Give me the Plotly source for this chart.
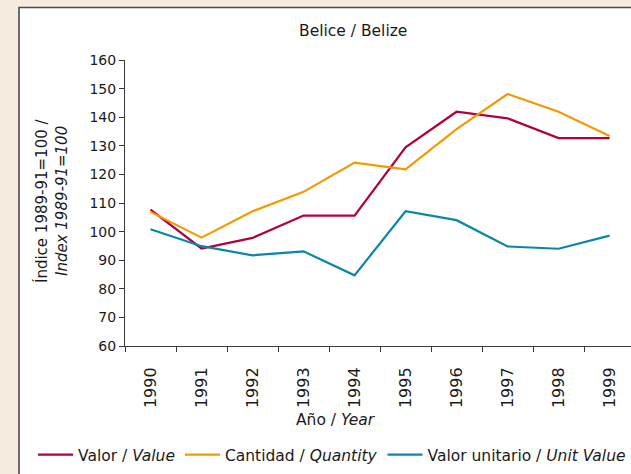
import plotly.graph_objects as go

years = ['1990', '1991', '1992', '1993', '1994', '1995', '1996', '1997', '1998', '1999']
valor = [107.7, 94.1, 97.8, 105.6, 105.6, 129.5, 141.9, 139.6, 132.7, 132.7]
cantidad = [106.9, 97.9, 107.1, 113.9, 124.1, 121.8, 135.8, 148.1, 141.9, 133.4]
valor_unitario = [100.8, 94.9, 91.7, 93.1, 84.7, 107.1, 104.0, 94.8, 94.0, 98.6]

names = ['Valor / <i>Value</i>', 'Cantidad / <i>Quantity</i>', 'Valor unitario / <i>Unit Value</i>']
colors = ['#B2003D', '#F39A00', '#0A87A8']

W, H = 631, 474
ML, MR, MT, MB = 125, 0, 60, 128
PW = W - ML - MR
PH = H - MT - MB

def px(x):
    return (x - ML) / PW

def py(y):
    return (H - MB - y) / PH

FONT = 'DejaVu Sans'

fig = go.Figure()
for name, vals, c in zip(names, [valor, cantidad, valor_unitario], colors):
    fig.add_trace(go.Scatter(x=years, y=vals, mode='lines', name=name,
                             line=dict(color=c, width=2.2)))

fig.update_layout(
    width=W, height=H,
    margin=dict(l=ML, r=MR, t=MT, b=MB),
    paper_bgcolor='#F5EBDF',
    plot_bgcolor='rgba(0,0,0,0)',
    font=dict(family=FONT, color='#1a1a1a'),
    showlegend=True,
    legend=dict(orientation='h', x=px(33), xanchor='left', y=py(455), yanchor='middle',
                font=dict(size=15.5, family=FONT, color='#1a1a1a'), bgcolor='rgba(0,0,0,0)',
                itemwidth=35, tracegroupgap=0),
    xaxis=dict(type='category', categoryorder='array', categoryarray=years,
               range=[-0.5, 9.42], showline=True, linecolor='#3a3a3a', linewidth=1,
               ticks='outside', ticklen=5, tickcolor='#3a3a3a', tickson='boundaries',
               tickangle=-90, tickfont=dict(size=16, family=FONT), ticklabelstandoff=14,
               showgrid=False, zeroline=False, fixedrange=True),
    yaxis=dict(range=[60, 160], dtick=10, showline=True, linecolor='#3a3a3a', linewidth=1,
               ticks='outside', ticklen=5, tickcolor='#3a3a3a',
               tickfont=dict(size=14, family=FONT), showgrid=False, zeroline=False,
               fixedrange=True),
    shapes=[dict(type='rect', xref='paper', yref='paper', x0=px(19), x1=px(700),
                 y0=py(7.5), y1=py(520), fillcolor='white',
                 line=dict(color='#4a4a4a', width=1.6), layer='below')],
)

ann = [
    dict(text='Belice / Belize', x=px(353), y=py(31), font=dict(size=15.5)),
    dict(text='Año / <i>Year</i>', x=px(336), y=py(420), font=dict(size=15.5)),
    dict(text='Índice 1989-91=100 /', x=px(41), y=py(201), textangle=-90, font=dict(size=15)),
    dict(text='<i>Index 1989-91=100</i>', x=px(62), y=py(201), textangle=-90, font=dict(size=15)),
]
for a in ann:
    a.update(xref='paper', yref='paper', xanchor='center', yanchor='middle', showarrow=False)
    a['font'].update(family=FONT, color='#1a1a1a')
fig.update_layout(annotations=ann)

fig.write_html('out.html', config={'displayModeBar': False},
               post_script="document.body.style.margin='0';document.body.style.overflow='hidden';")
